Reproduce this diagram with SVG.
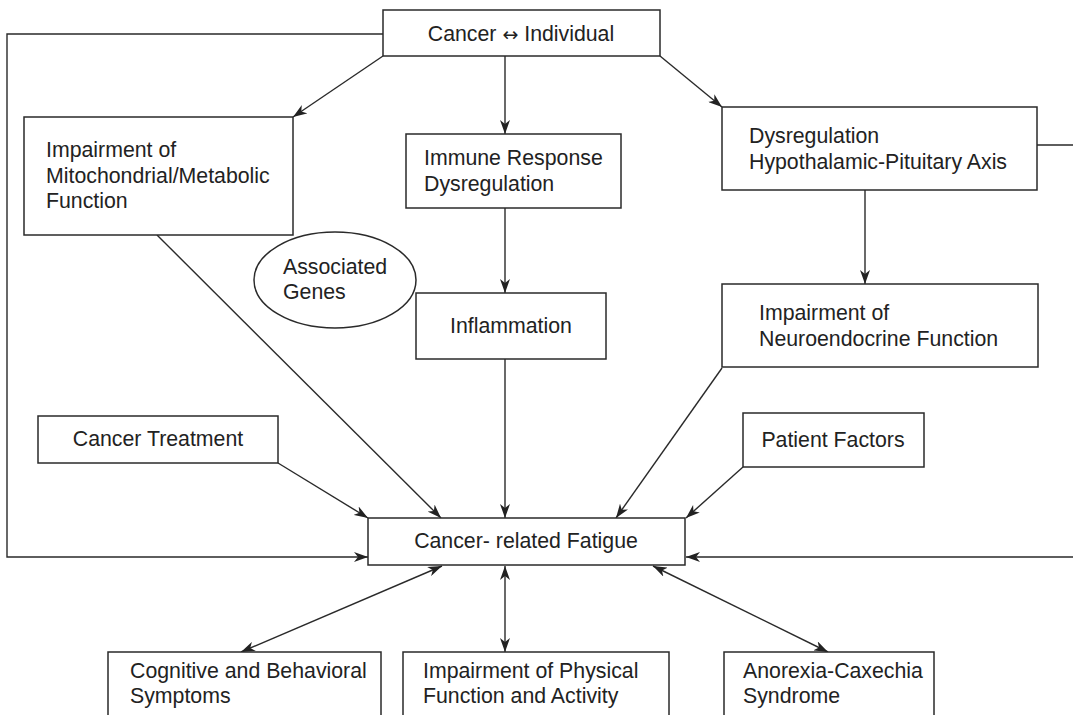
<svg xmlns="http://www.w3.org/2000/svg" width="1073" height="715" viewBox="0 0 1073 715">
<style>
.box{fill:#fff;stroke:#2a2a2a;stroke-width:1.5}
.t{font-family:"Liberation Sans",Arial,sans-serif;font-size:21.3px;fill:#222}
.c{text-anchor:middle}
.ln{fill:none;stroke:#2a2a2a;stroke-width:1.4}
</style>
<defs>
<marker id="ah" viewBox="0 0 14 10" refX="14" refY="5" markerWidth="14" markerHeight="10" markerUnits="userSpaceOnUse" orient="auto-start-reverse">
<path d="M0,0 L14,5 L0,10 L4,5 z" fill="#222"/>
</marker>
</defs>
<rect width="1073" height="715" fill="#fff"/>
<g id="connectors">
<polyline class="ln" points="383,34 7,34 7,557 368,557" marker-end="url(#ah)"/>
<polyline class="ln" points="1037,145 1080,145 1080,557 686,557" marker-end="url(#ah)"/>
<line class="ln" x1="383" y1="56" x2="293" y2="117" marker-end="url(#ah)"/>
<line class="ln" x1="505" y1="56" x2="505" y2="134" marker-end="url(#ah)"/>
<line class="ln" x1="660" y1="56" x2="722" y2="107" marker-end="url(#ah)"/>
<line class="ln" x1="505" y1="208" x2="505" y2="293" marker-end="url(#ah)"/>
<line class="ln" x1="865" y1="190" x2="865" y2="284" marker-end="url(#ah)"/>
<line class="ln" x1="157" y1="235" x2="441" y2="518" marker-end="url(#ah)"/>
<line class="ln" x1="505" y1="359" x2="505" y2="518" marker-end="url(#ah)"/>
<line class="ln" x1="722" y1="368" x2="616" y2="518" marker-end="url(#ah)"/>
<line class="ln" x1="278" y1="463" x2="368" y2="518" marker-end="url(#ah)"/>
<line class="ln" x1="743" y1="467" x2="686" y2="518" marker-end="url(#ah)"/>
<line class="ln" x1="442" y1="566" x2="241" y2="652" marker-start="url(#ah)" marker-end="url(#ah)"/>
<line class="ln" x1="505" y1="566" x2="505" y2="652" marker-start="url(#ah)" marker-end="url(#ah)"/>
<line class="ln" x1="653" y1="566" x2="828" y2="652" marker-start="url(#ah)" marker-end="url(#ah)"/>
</g>
<g id="n-top">
<rect class="box" x="383" y="10" width="277" height="46"/>
<text class="t c" x="521" y="41">Cancer <tspan font-family="'DejaVu Sans',sans-serif" font-size="19">↔</tspan> Individual</text>
</g>
<g id="n-mito">
<rect class="box" x="24" y="117" width="269" height="118"/>
<text class="t" x="46" y="157">Impairment of</text>
<text class="t" x="46" y="183">Mitochondrial/Metabolic</text>
<text class="t" x="46" y="208">Function</text>
</g>
<g id="n-immune">
<rect class="box" x="406" y="134" width="215" height="74"/>
<text class="t" x="424" y="165">Immune Response</text>
<text class="t" x="424" y="191">Dysregulation</text>
</g>
<g id="n-hpa">
<rect class="box" x="722" y="107" width="315" height="83"/>
<text class="t" x="749" y="143">Dysregulation</text>
<text class="t" x="749" y="169">Hypothalamic-Pituitary Axis</text>
</g>
<g id="n-genes">
<ellipse class="box" cx="335" cy="280" rx="81" ry="48"/>
<text class="t" x="283" y="274">Associated</text>
<text class="t" x="283" y="299">Genes</text>
</g>
<g id="n-inflam">
<rect class="box" x="416" y="293" width="190" height="66"/>
<text class="t c" x="511" y="333">Inflammation</text>
</g>
<g id="n-neuro">
<rect class="box" x="722" y="284" width="316" height="83"/>
<text class="t" x="759" y="320">Impairment of</text>
<text class="t" x="759" y="346">Neuroendocrine Function</text>
</g>
<g id="n-treat">
<rect class="box" x="38" y="416" width="240" height="47"/>
<text class="t c" x="158" y="446">Cancer Treatment</text>
</g>
<g id="n-patient">
<rect class="box" x="743" y="413" width="181" height="54"/>
<text class="t c" x="833" y="447">Patient Factors</text>
</g>
<g id="n-fatigue">
<rect class="box" x="368" y="518" width="317" height="47"/>
<text class="t c" x="526" y="548">Cancer- related Fatigue</text>
</g>
<g id="n-cog">
<rect class="box" x="108" y="652" width="273" height="80"/>
<text class="t" x="130" y="678">Cognitive and Behavioral</text>
<text class="t" x="130" y="703">Symptoms</text>
</g>
<g id="n-phys">
<rect class="box" x="403" y="652" width="266" height="80"/>
<text class="t" x="423" y="678">Impairment of Physical</text>
<text class="t" x="423" y="703">Function and Activity</text>
</g>
<g id="n-anor">
<rect class="box" x="724" y="652" width="210" height="80"/>
<text class="t" x="743" y="678">Anorexia-Caxechia</text>
<text class="t" x="743" y="703">Syndrome</text>
</g>
</svg>
